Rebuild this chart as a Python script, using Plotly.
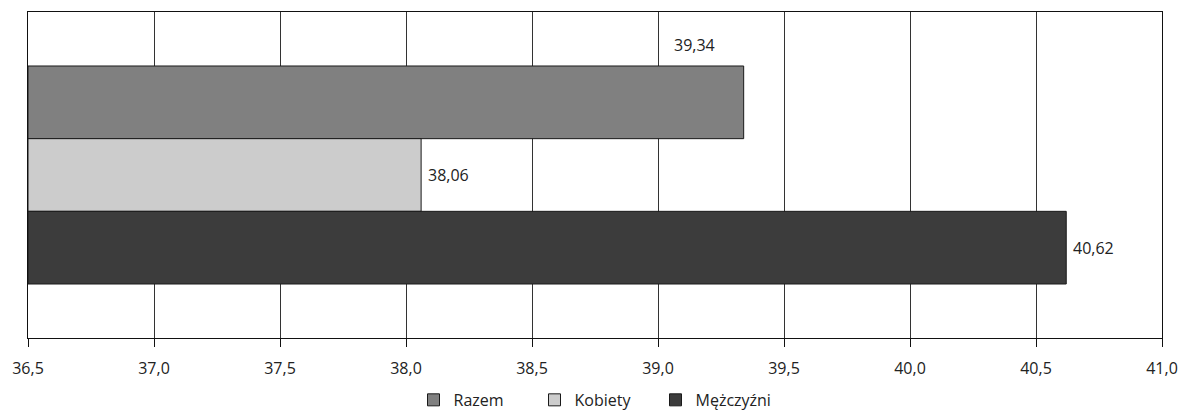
import plotly.graph_objects as go

# Data
series = ["Razem", "Kobiety", "Mężczyźni"]
values = [39.34, 38.06, 40.62]
colors = ["#808080", "#cccccc", "#3c3c3c"]
positions = [2, 1, 0]
tick_vals = [36.5, 37.0, 37.5, 38.0, 38.5, 39.0, 39.5, 40.0, 40.5, 41.0]
tick_text = ["36,5", "37,0", "37,5", "38,0", "38,5", "39,0", "39,5", "40,0", "40,5", "41,0"]

FONT = "Open Sans"
SIZE = 16

def fmt(v):
    return f"{v:.2f}".replace(".", ",")

fig = go.Figure()
for name, val, col, pos in zip(series, values, colors, positions):
    fig.add_trace(go.Bar(
        name=name,
        y=[pos],
        x=[val - 36.5],
        base=36.5,
        orientation="h",
        width=1.0,
        marker=dict(color=col, line=dict(color="#1a1a1a", width=1)),
        hoverinfo="skip",
    ))

# Value labels: Razem above its bar end, the others just right of the bar end
for name, val, pos in zip(series, values, positions):
    if name == "Razem":
        fig.add_annotation(
            x=val, y=pos + 0.5, text=fmt(val), showarrow=False,
            xanchor="left", yanchor="middle", xshift=-72, yshift=21,
            font=dict(family=FONT, size=SIZE, color="#222"),
        )
    else:
        fig.add_annotation(
            x=val, y=pos, text=fmt(val), showarrow=False,
            xanchor="left", yanchor="middle", xshift=5,
            font=dict(family=FONT, size=SIZE, color="#222"),
        )

fig.update_layout(
    width=1183, height=410,
    margin=dict(l=28, r=21, t=12, b=72, autoexpand=False),
    paper_bgcolor="white", plot_bgcolor="white",
    barmode="overlay",
    showlegend=True,
    legend=dict(
        orientation="h", x=0.5, xanchor="center", y=-0.19, yanchor="middle",
        font=dict(family=FONT, size=SIZE, color="#222"),
        traceorder="normal", itemwidth=30, entrywidth=76,
    ),
    font=dict(family=FONT, size=SIZE, color="#222"),
)
fig.update_xaxes(
    range=[36.5, 41.0],
    tickvals=tick_vals, ticktext=tick_text,
    showgrid=True, gridcolor="#333", gridwidth=1.2,
    showline=True, linecolor="#111", linewidth=1.2, mirror=True,
    ticks="outside", ticklen=8, tickcolor="#111", tickwidth=1.2,
    ticklabelstandoff=8,
    tickfont=dict(family=FONT, size=SIZE, color="#222"),
    zeroline=False,
)
fig.update_yaxes(
    range=[-1.243, 3.243],
    showticklabels=False, showgrid=False, zeroline=False,
    showline=True, linecolor="#111", linewidth=1.2, mirror=True,
)

fig.write_html("out.html")
